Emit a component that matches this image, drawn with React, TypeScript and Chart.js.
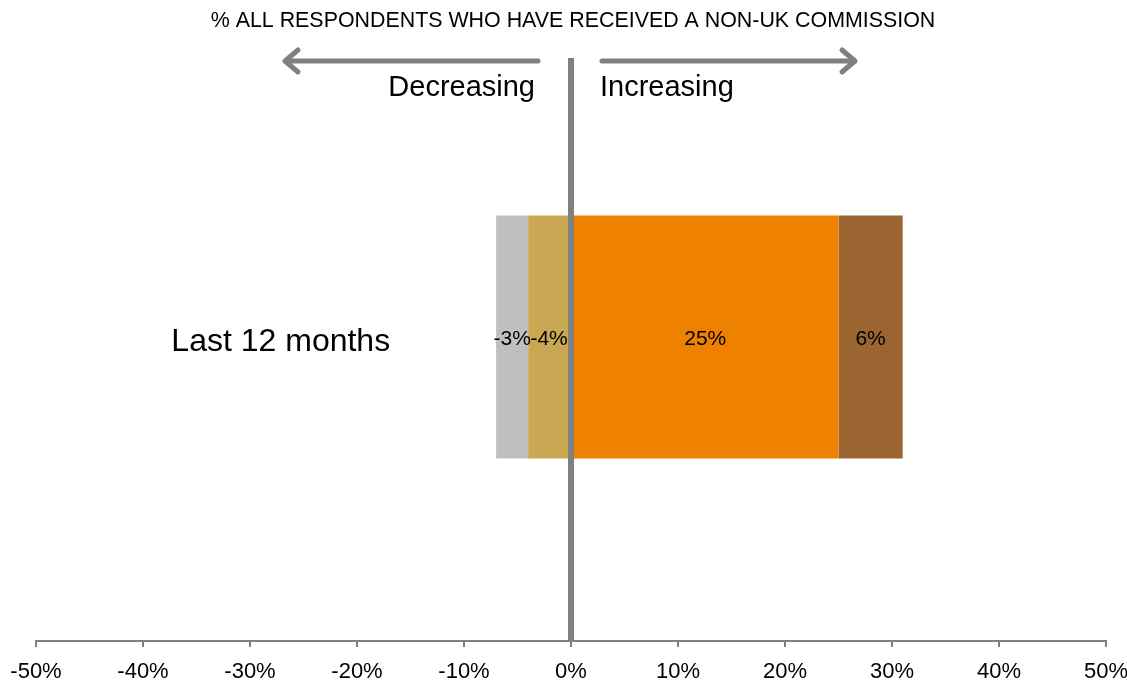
import React, { useEffect, useRef } from "react";
import { Chart, registerables } from "chart.js";

Chart.register(...registerables);

const categories = ["Last 12 months"];
const seriesNames = ["Decreasing a lot", "Decreasing a little", "Increasing a little", "Increasing a lot"];
const seriesValues = [[-4], [-3], [25], [6]];
const seriesLabels = ["-4%", "-3%", "25%", "6%"];
const seriesColors = ["#C8A853", "#BFBFBF", "#EE8200", "#9B6532"];
const xTicks = [-50, -40, -30, -20, -10, 0, 10, 20, 30, 40, 50];
const title = "% ALL RESPONDENTS WHO HAVE RECEIVED A NON-UK COMMISSION";
const leftText = "Decreasing";
const rightText = "Increasing";

const FONT = "'Liberation Sans', Arial, sans-serif";
const GREY = "#808080";

const overlay = {
  id: "overlay",
  afterDatasetsDraw(chart: any) {
    const ctx = chart.ctx;
    const x = chart.scales.x;
    const area = chart.chartArea;
    const zx = x.getPixelForValue(0);
    ctx.save();
    // title
    ctx.fillStyle = "#000";
    ctx.font = `21.4px ${FONT}`;
    ctx.textAlign = "center";
    ctx.textBaseline = "middle";
    ctx.fillText(title, zx + 2, 21);
    // zero line
    ctx.strokeStyle = GREY;
    ctx.lineWidth = 6;
    ctx.beginPath();
    ctx.moveTo(zx, 58);
    ctx.lineTo(zx, area.bottom);
    ctx.stroke();
    // arrows
    ctx.lineWidth = 5;
    ctx.lineCap = "round";
    ctx.lineJoin = "round";
    const ay = 61;
    const lStart = zx - 33, lEnd = zx - 286;
    const rStart = zx + 31, rEnd = zx + 284;
    ctx.beginPath();
    ctx.moveTo(lStart, ay);
    ctx.lineTo(lEnd, ay);
    ctx.moveTo(lEnd + 13, ay - 11);
    ctx.lineTo(lEnd, ay);
    ctx.lineTo(lEnd + 13, ay + 11);
    ctx.moveTo(rStart, ay);
    ctx.lineTo(rEnd, ay);
    ctx.moveTo(rEnd - 13, ay - 11);
    ctx.lineTo(rEnd, ay);
    ctx.lineTo(rEnd - 13, ay + 11);
    ctx.stroke();
    // direction texts
    ctx.fillStyle = "#000";
    ctx.font = `29px ${FONT}`;
    ctx.textAlign = "right";
    ctx.fillText(leftText, zx - 36, 88);
    ctx.textAlign = "left";
    ctx.fillText(rightText, zx + 29, 88);
    // category label
    const y = chart.scales.y;
    ctx.font = `32px ${FONT}`;
    ctx.textAlign = "right";
    categories.forEach((c, i) => {
      ctx.fillText(c, x.getPixelForValue(-16.9), y.getPixelForValue(i) + 5);
    });
    // data labels
    ctx.font = `21px ${FONT}`;
    ctx.textAlign = "center";
    chart.data.datasets.forEach((ds: any, di: number) => {
      const meta = chart.getDatasetMeta(di);
      meta.data.forEach((bar: any) => {
        const cx = (bar.x + bar.base) / 2;
        ctx.fillText(seriesLabels[di], cx, bar.y + 2);
      });
    });
    ctx.restore();
  },
};

export default function App() {
  const ref = useRef<HTMLCanvasElement | null>(null);
  useEffect(() => {
    document.body.style.margin = "0";
    const chart = new Chart(ref.current as HTMLCanvasElement, {
      type: "bar",
      data: {
        labels: categories,
        datasets: seriesNames.map((n, i) => ({
          label: n,
          data: seriesValues[i],
          backgroundColor: seriesColors[i],
          borderWidth: 0,
          categoryPercentage: 1,
          barPercentage: 0.4,
        })),
      },
      options: {
        indexAxis: "y",
        animation: false,
        responsive: false,
        layout: { padding: { top: 33, left: 36, right: 21, bottom: 0 } },
        plugins: { legend: { display: false }, tooltip: { enabled: false }, title: { display: false } },
        scales: {
          x: {
            stacked: true,
            min: -50,
            max: 50,
            afterBuildTicks: (s: any) => {
              s.ticks = xTicks.map((v) => ({ value: v }));
            },
            afterFit: (s: any) => {
              s.height = 46;
              s.paddingLeft = 0;
              s.paddingRight = 0;
            },
            ticks: {
              callback: (v: any) => `${v}%`,
              color: "#000",
              font: { family: FONT, size: 22 },
              padding: 12,
              maxRotation: 0,
              autoSkip: false,
            },
            grid: { drawOnChartArea: false, drawTicks: true, tickLength: 6, color: GREY, lineWidth: 2 },
            border: { display: true, color: GREY, width: 2 },
          },
          y: {
            stacked: true,
            display: false,
          },
        },
      },
      plugins: [overlay],
    } as any);
    return () => chart.destroy();
  }, []);
  return (
    <div style={{ width: 1127, height: 687 }}>
      <canvas ref={ref} width={1127} height={687} style={{ display: "block" }} />
    </div>
  );
}
